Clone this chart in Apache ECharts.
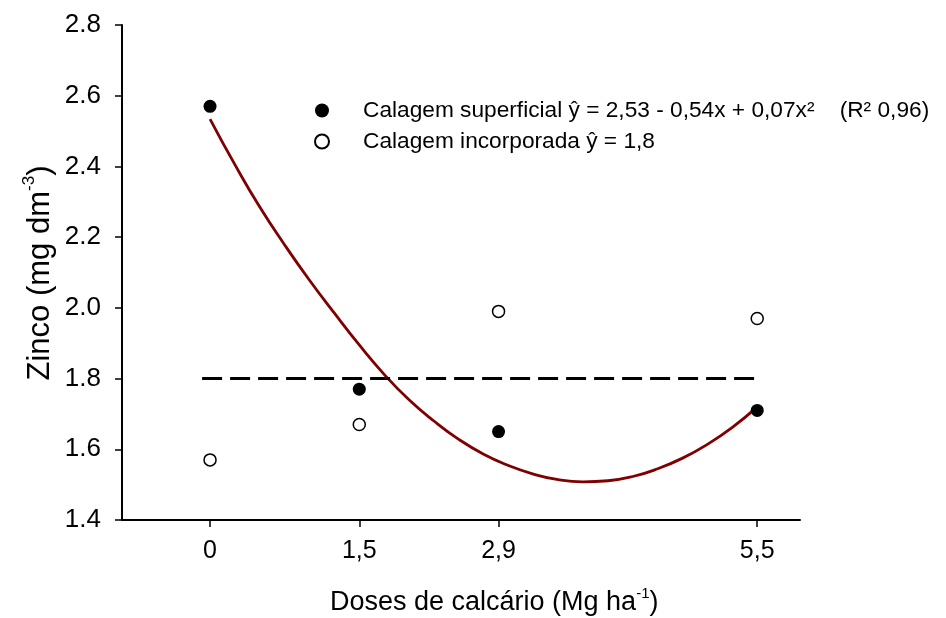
<!DOCTYPE html>
<html>
<head>
<meta charset="utf-8">
<script src="https://cdn.jsdelivr.net/npm/echarts@6/dist/echarts.min.js"></script>
<style>
html,body{margin:0;padding:0;background:#fff;}
#chart{width:946px;height:618px;}
</style>
</head>
<body>
<div id="chart"></div>
<script>
// Doses de calcário (Mg ha-1)
const doses = [0, 1.5, 2.9, 5.5];
const xTickLabels = ['0', '1,5', '2,9', '5,5'];
// Observed zinc values
const zincSuperficial = [2.57, 1.77, 1.65, 1.71];
const zincIncorporada = [1.57, 1.67, 1.99, 1.97];
// Fitted curve for calagem superficial
const curveX = [0, 0.25, 0.5, 0.75, 1, 1.25, 1.5, 1.75, 2, 2.25, 2.5, 2.75, 3, 3.25, 3.5, 3.75, 4, 4.25, 4.5, 4.75, 5, 5.25, 5.5];
const curveY = [2.534, 2.405, 2.285, 2.178, 2.078, 1.985, 1.895, 1.812, 1.740, 1.680, 1.628, 1.586, 1.554, 1.530, 1.514, 1.508, 1.511, 1.523, 1.545, 1.575, 1.614, 1.662, 1.72];
// Mean line for calagem incorporada
const meanX = [-0.08, 5.53];
const meanY = [1.8, 1.8];
const legendNames = ['Calagem superficial', 'Calagem incorporada'];
const legendTexts = ['Calagem superficial ŷ = 2,53 - 0,54x + 0,07x²    (R² 0,96)', 'Calagem incorporada ŷ = 1,8'];

const FONT = '"Liberation Sans", Arial, sans-serif';
const chart = echarts.init(document.getElementById('chart'));
const zip = (a, b) => a.map((v, i) => [v, b[i]]);

chart.setOption({
  animation: false,
  backgroundColor: '#fff',
  grid: { left: 122, right: 146, top: 25, bottom: 98 },
  xAxis: {
    type: 'value', min: -0.885, max: 5.93,
    axisLine: { show: true, onZero: false, lineStyle: { color: '#000', width: 2 } },
    axisTick: { show: true, customValues: doses, length: 7, lineStyle: { color: '#000', width: 1.5 } },
    axisLabel: {
      customValues: doses, margin: 19, color: '#000', fontSize: 25, fontFamily: FONT,
      formatter: v => xTickLabels[doses.indexOf(v)] ?? String(v).replace('.', ',')
    },
    splitLine: { show: false }
  },
  yAxis: {
    type: 'value', min: 1.4, max: 2.8, interval: 0.2,
    axisLine: { show: true, onZero: false, lineStyle: { color: '#000', width: 2 } },
    axisTick: { show: true, length: 7, lineStyle: { color: '#000', width: 1.5 } },
    axisLabel: { margin: 21, color: '#000', fontSize: 26, fontFamily: FONT, formatter: v => v.toFixed(1) },
    splitLine: { show: false }
  },
  legend: {
    data: legendNames,
    orient: 'vertical', left: 309, top: 94,
    itemWidth: 14, itemHeight: 14, itemGap: 8,
    textStyle: { fontSize: 22.7, fontFamily: FONT, color: '#000', padding: [0, 0, 0, 29] },
    formatter: name => legendTexts[legendNames.indexOf(name)]
  },
  series: [
    {
      name: 'curve', type: 'line', data: zip(curveX, curveY), smooth: true, symbol: 'none',
      lineStyle: { color: '#7f0000', width: 2.8 }, z: 2, silent: true
    },
    {
      name: 'mean', type: 'line', data: zip(meanX, meanY), symbol: 'none',
      lineStyle: { color: '#000', width: 3, type: [20, 8] }, z: 2, silent: true
    },
    {
      name: legendNames[0], type: 'scatter', data: zip(doses, zincSuperficial), symbol: 'circle', symbolSize: 13,
      itemStyle: { color: '#000', opacity: 1 }, z: 3
    },
    {
      name: legendNames[1], type: 'scatter', data: zip(doses, zincIncorporada), symbol: 'circle', symbolSize: 12,
      itemStyle: { color: '#fff', borderColor: '#000', borderWidth: 1.5, opacity: 1 }, z: 3
    }
  ],
  graphic: [
    {
      type: 'text', x: 330, y: 603,
      style: {
        text: '{n|Doses de calcário (Mg ha}{s|-1}{n|)}',
        align: 'left', verticalAlign: 'middle',
        rich: {
          n: { fontSize: 27, fontFamily: FONT, fill: '#000', lineHeight: 34 },
          s: { fontSize: 15, fontFamily: FONT, fill: '#000', verticalAlign: 'top', lineHeight: 16 }
        }
      }
    },
    {
      type: 'text', x: 40, y: 273, rotation: Math.PI / 2,
      style: {
        text: '{n|Zinco (mg dm}{s|-3}{n|)}',
        align: 'center', verticalAlign: 'middle',
        rich: {
          n: { fontSize: 31, fontFamily: FONT, fill: '#000', lineHeight: 38 },
          s: { fontSize: 17, fontFamily: FONT, fill: '#000', verticalAlign: 'top', lineHeight: 17 }
        }
      }
    }
  ]
});
</script>
</body>
</html>
